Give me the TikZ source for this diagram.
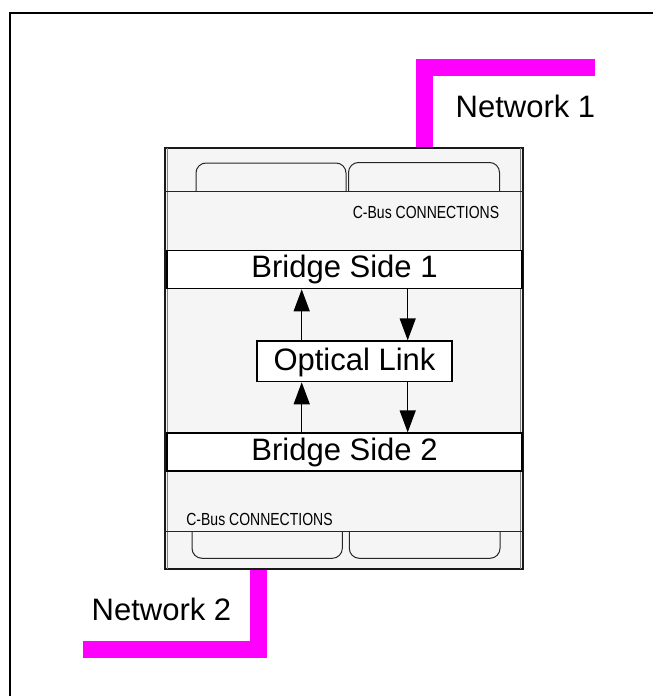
\documentclass[tikz,border=0pt]{standalone}
\usepackage{fontspec}
\setmainfont{Liberation Sans}
\newfontfamily\narrowfont[FakeStretch=0.8]{Liberation Sans}
\usetikzlibrary{arrows.meta}
\definecolor{netmag}{HTML}{FF00FF}
\definecolor{devfill}{HTML}{F5F5F5}
\tikzset{
  bigtext/.style={font=\fontsize{31}{37}\selectfont},
  smalltext/.style={font=\narrowfont\fontsize{17.5}{20}\selectfont, inner sep=0pt, anchor=base},
  whitebox/.style={draw=black, line width=1.2pt, fill=white, inner sep=0pt, bigtext},
  arr/.style={line width=1.3pt, -{Triangle[width=16pt,length=22pt]}},
  netline/.style={draw=netmag, line width=17pt, line join=miter, line cap=butt},
  tabline/.style={draw=black!85, line width=1pt, rounded corners=10pt},
  lbl/.style={bigtext, inner sep=0pt, anchor=base}
}
\begin{document}
\begin{tikzpicture}[x=1pt,y=-1pt]
\useasboundingbox (0,0) rectangle (654,696);
% outer frame
\draw[line width=2pt] (10,700) -- (10,13) -- (653,13);
% device body
\node[draw=black!90, line width=1.6pt, fill=devfill, minimum width=358pt, minimum height=421pt, inner sep=0pt] (dev) at (344,358.5) {};
\draw[black!50, line width=1pt] (167.5,148) -- (167.5,569);
\draw[black!50, line width=1pt] (520.5,148) -- (520.5,569);
% connector strips
\draw[black!85, line width=1pt] (dev.west |- 0,191) -- (dev.east |- 0,191);
\draw[black!85, line width=1pt] (dev.west |- 0,531) -- (dev.east |- 0,531);
% top tabs
\draw[tabline] (196,191) -- (196,163) -- (346,163) -- (346,191);
\draw[tabline] (348.5,191) -- (348.5,162.5) -- (499.5,162.5) -- (499.5,191);
% bottom tabs
\draw[tabline] (192,531) -- (192,558.3) -- (342.3,558.3) -- (342.3,531);
\draw[tabline] (349.3,531) -- (349.3,558.3) -- (500,558.3) -- (500,531);
% labels
\node[smalltext] (cb1) at (426,218) {C-Bus CONNECTIONS};
\node[smalltext] (cb2) at (259.5,525.7) {C-Bus CONNECTIONS};
% boxes
\node[whitebox, minimum width=355pt, minimum height=38pt, text height=22pt, text depth=6pt] (b1) at (344.5,269.7) {Bridge Side 1};
\node[whitebox, minimum width=355pt, minimum height=38pt, text height=22pt, text depth=6pt] (b2) at (344.5,452) {Bridge Side 2};
\node[whitebox, minimum width=195pt, minimum height=40.7pt, text height=22pt, text depth=4pt] (ol) at (354.5,361.3) {Optical Link};
% arrows
\coordinate (xl) at (301.7,0);
\coordinate (xr) at (407.7,0);
\draw[arr] (xl |- ol.north) -- (xl |- b1.south);
\draw[arr] (xr |- b1.south) -- (xr |- ol.north);
\draw[arr] (xl |- b2.north) -- (xl |- ol.south);
\draw[arr] (xr |- ol.south) -- (xr |- b2.north);
% networks
\coordinate (n1end) at (595,67.5);
\coordinate (n2end) at (83,649);
\draw[netline] (dev.north -| 424.5,0) -- (424.5,67.5) -- (n1end);
\draw[netline] (dev.south -| 258.5,0) -- (258.5,649) -- (n2end);
\node[lbl] (net1) at (525.5,117) {Network 1};
\node[lbl] (net2) at (161.5,620) {Network 2};
\end{tikzpicture}
\end{document}
